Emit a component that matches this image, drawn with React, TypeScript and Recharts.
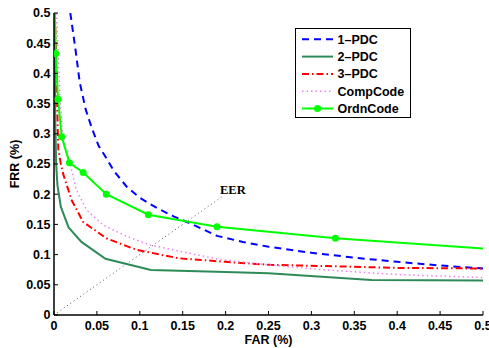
import { LineChart, Line, XAxis, YAxis, Legend } from "recharts"

const farTicks = [0, 0.05, 0.1, 0.15, 0.2, 0.25, 0.3, 0.35, 0.4, 0.45, 0.5]
const frrTicks = [0, 0.05, 0.1, 0.15, 0.2, 0.25, 0.3, 0.35, 0.4, 0.45, 0.5]

const pdc1Far = [0.019, 0.025, 0.03, 0.037, 0.044, 0.052, 0.06, 0.07, 0.085, 0.1, 0.12, 0.14, 0.16, 0.19, 0.22, 0.25, 0.3, 0.35, 0.4, 0.45, 0.5]
const pdc1Frr = [0.5, 0.44, 0.385, 0.34, 0.31, 0.28, 0.262, 0.238, 0.212, 0.194, 0.177, 0.163, 0.151, 0.131, 0.121, 0.113, 0.103, 0.095, 0.088, 0.082, 0.077]

const pdc2Far = [0.0005, 0.001, 0.0015, 0.0025, 0.004, 0.008, 0.017, 0.032, 0.06, 0.113, 0.2, 0.25, 0.37, 0.5]
const pdc2Frr = [0.5, 0.4, 0.32, 0.25, 0.215, 0.179, 0.145, 0.121, 0.093, 0.0745, 0.071, 0.069, 0.058, 0.057]

const pdc3Far = [0.001, 0.002, 0.003, 0.004, 0.005, 0.008, 0.011, 0.0206, 0.034, 0.061, 0.096, 0.145, 0.2, 0.252, 0.318, 0.4, 0.5]
const pdc3Frr = [0.5, 0.45, 0.4, 0.33, 0.275, 0.25, 0.232, 0.19, 0.154, 0.127, 0.108, 0.094, 0.088, 0.083, 0.081, 0.078, 0.077]

const compFar = [0.003, 0.005, 0.007, 0.0095, 0.013, 0.019, 0.026, 0.038, 0.057, 0.085, 0.112, 0.145, 0.193, 0.25, 0.318, 0.4, 0.5]
const compFrr = [0.5, 0.43, 0.36, 0.31, 0.28, 0.25, 0.207, 0.174, 0.149, 0.13, 0.116, 0.106, 0.092, 0.083, 0.0745, 0.067, 0.062]

const ordnFar = [0.001, 0.002, 0.0047, 0.009, 0.018, 0.034, 0.061, 0.11, 0.19, 0.328, 0.5]
const ordnFrr = [0.5, 0.433, 0.357, 0.295, 0.252, 0.236, 0.2, 0.166, 0.146, 0.127, 0.11]

const eerFar = [0, 0.197]
const eerFrr = [0, 0.197]

const zip = (far: number[], frr: number[]) => far.map((f, i) => ({ far: f, frr: frr[i] }))

const font = "'Liberation Sans', Arial, Helvetica, sans-serif"
const tickStyle = { fill: "#000", fontSize: 12.5, fontWeight: "bold", fontFamily: font }

const series = [
  { name: "1\u2013PDC", color: "#0000ff", width: 2, dash: "7 5" },
  { name: "2\u2013PDC", color: "#2e8b57", width: 2, dash: undefined },
  { name: "3\u2013PDC", color: "#ff0000", width: 2, dash: "7 3 1.5 3" },
  { name: "CompCode", color: "#ee82ee", width: 1.5, dash: "1.5 3" },
  { name: "OrdnCode", color: "#00ff00", width: 2, dash: undefined },
]

function LegendBox() {
  return (
    <svg width={117} height={91} style={{ display: "block" }}>
      <rect x={0.5} y={0.5} width={115} height={89} fill="#fff" stroke="#000" strokeWidth={1} />
      {series.map((s, i) => {
        const cy = 11.3 + i * 17.3
        return (
          <g key={s.name}>
            <line x1={7} x2={38} y1={cy} y2={cy} stroke={s.color} strokeWidth={s.width} strokeDasharray={s.dash} />
            {s.name === "OrdnCode" && <circle cx={22.5} cy={cy} r={3.5} fill={s.color} />}
            <text x={42.5} y={cy + 4.5} style={tickStyle}>
              {s.name}
            </text>
          </g>
        )
      })}
    </svg>
  )
}

const ordnDot = (p: any) => {
  const last = ordnFar.length - 1
  if (p.index === 0 || p.index === last) return <g key={p.index} />
  return <circle key={p.index} cx={p.cx} cy={p.cy} r={3.5} fill="#00ff00" stroke="none" />
}

export default function App() {
  const data = [zip(pdc1Far, pdc1Frr), zip(pdc2Far, pdc2Frr), zip(pdc3Far, pdc3Frr), zip(compFar, compFrr), zip(ordnFar, ordnFrr)]
  return (
    <div style={{ position: "absolute", left: 0, top: 0, background: "#fff" }}>
      <LineChart width={489} height={348} margin={{ top: 13, right: 6, bottom: 0, left: 0 }}>
        <XAxis
          type="number"
          dataKey="far"
          domain={[0, 0.5]}
          ticks={farTicks}
          allowDataOverflow
          height={33}
          tickSize={-4}
          tickMargin={10}
          tick={tickStyle}
          axisLine={{ stroke: "#000", strokeWidth: 1.5 }}
          tickLine={{ stroke: "#000" }}
          interval={0}
          label={(p: any) => (
            <text x={p.viewBox.x + p.viewBox.width / 2} y={p.viewBox.y + 29} textAnchor="middle" style={tickStyle}>
              FAR (%)
            </text>
          )}
        />
        <XAxis
          xAxisId="top"
          orientation="top"
          type="number"
          dataKey="far"
          domain={[0, 0.5]}
          ticks={farTicks}
          height={0}
          tickSize={-4}
          tick={false}
          axisLine={{ stroke: "#000", strokeWidth: 1.5 }}
          tickLine={{ stroke: "#000" }}
          interval={0}
        />
        <YAxis
          type="number"
          domain={[0, 0.5]}
          ticks={frrTicks}
          allowDataOverflow
          width={54}
          tickSize={-4}
          tickMargin={7.5}
          tick={tickStyle}
          axisLine={{ stroke: "#000", strokeWidth: 1.5 }}
          tickLine={{ stroke: "#000" }}
          interval={0}
          label={(p: any) => (
            <text
              x={19}
              y={p.viewBox.y + p.viewBox.height / 2}
              textAnchor="middle"
              transform={`rotate(-90, 19, ${p.viewBox.y + p.viewBox.height / 2})`}
              style={tickStyle}
            >
              FRR (%)
            </text>
          )}
        />
        <YAxis
          yAxisId="right"
          orientation="right"
          type="number"
          domain={[0, 0.5]}
          ticks={frrTicks}
          width={0}
          tickSize={-4}
          tick={false}
          axisLine={{ stroke: "#000", strokeWidth: 1.5 }}
          tickLine={{ stroke: "#000" }}
          interval={0}
        />
        <Line
          data={zip(eerFar, eerFrr)}
          dataKey="frr"
          name="EER"
          legendType="none"
          stroke="#555"
          strokeWidth={1}
          strokeDasharray="1 3"
          dot={false}
          isAnimationActive={false}
          label={(p: any) =>
            p.index === 1 ? (
              <text
                key="eer"
                x={p.x - 3}
                y={p.y - 2}
                style={{ fill: "#000", fontSize: 12.5, fontWeight: "bold", fontFamily: "'Liberation Serif', 'Times New Roman', serif" }}
              >
                EER
              </text>
            ) : (
              <g key={p.index} />
            )
          }
        />
        {series.map((s, i) => (
          <Line
            key={s.name}
            data={data[i]}
            dataKey="frr"
            name={s.name}
            type="linear"
            stroke={s.color}
            strokeWidth={s.width}
            strokeDasharray={s.dash}
            dot={s.name === "OrdnCode" ? ordnDot : false}
            activeDot={false}
            isAnimationActive={false}
          />
        ))}
        <Legend
          layout="vertical"
          align="center"
          verticalAlign="middle"
          wrapperStyle={{ left: 295, top: 28, width: 117, height: 91 }}
          content={() => <LegendBox />}
        />
      </LineChart>
    </div>
  )
}
